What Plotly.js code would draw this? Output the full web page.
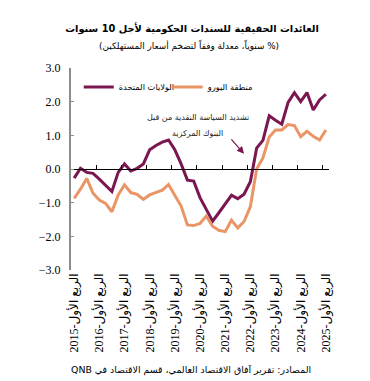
<!DOCTYPE html>
<html>
<head>
<meta charset="utf-8">
<script src="https://cdn.plot.ly/plotly-3.0.1.min.js"></script>
<style>html,body{margin:0;padding:0;background:#fff;}#chart{width:370px;height:381px;}</style>
</head>
<body>
<div id="chart"></div>
<script>
// Quarterly data, Q1 2015 .. Q1 2025
var quarters = [];
var years = ["2015","2016","2017","2018","2019","2020","2021","2022","2023","2024","2025"];
var usYields = [-0.27, 0.02, -0.1, -0.13, -0.3, -0.48, -0.67, -0.1, 0.15, -0.06, 0.02, 0.15, 0.57, 0.7, 0.8, 0.86, 0.57, 0.15, -0.33, -0.36, -0.85, -1.2, -1.55, -1.3, -1.02, -0.78, -0.88, -0.75, -0.38, 0.62, 0.85, 1.58, 1.45, 1.33, 1.98, 2.27, 2.0, 2.27, 1.75, 2.05, 2.22];
var euroYields = [-0.87, -0.6, -0.28, -0.72, -0.92, -1.02, -1.27, -0.77, -0.47, -0.7, -0.75, -0.9, -0.77, -0.7, -0.63, -0.46, -0.8, -1.1, -1.66, -1.68, -1.62, -1.4, -1.7, -1.82, -1.86, -1.52, -1.75, -1.56, -1.12, 0.0, 0.33, 0.95, 1.16, 1.16, 1.32, 1.29, 0.96, 1.12, 0.97, 0.86, 1.16];
var seriesNames = ["الولايات المتحدة", "منطقة اليورو"];
var yTicks = [-3, -2, -1, 0, 1, 2, 3];

var RLE = "\u202B", PDF = "\u202C";
for (var i = 0; i < usYields.length; i++) quarters.push(i);
var labelVals = [], labelText = [], boundaryVals = [];
for (var k = 0; k < years.length; k++) {
  labelVals.push(4 * k);
  labelText.push(RLE + "الربع الأول-" + years[k] + PDF);
}
for (var k = 1; k <= 10; k++) boundaryVals.push(4 * k - 0.5);

var serif = "'Liberation Serif', 'Times New Roman', 'DejaVu Sans', serif";
var sans = "'DejaVu Sans', 'Liberation Sans', sans-serif";
var purple = "#7a1650";
var orange = "#ea9566";

var traces = [
  {x: quarters, y: usYields, type: "scatter", mode: "lines", name: seriesNames[0],
   line: {color: purple, width: 3}, legend: "legend", hoverinfo: "skip"},
  {x: quarters, y: euroYields, type: "scatter", mode: "lines", name: seriesNames[1],
   line: {color: orange, width: 3}, legend: "legend2", hoverinfo: "skip"},
  {x: [0], y: [0], xaxis: "x2", yaxis: "y", type: "scatter", mode: "markers",
   marker: {opacity: 0}, showlegend: false, hoverinfo: "skip"}
];

var layout = {
  width: 370, height: 381,
  margin: {l: 71, r: 41, t: 68, b: 111},
  paper_bgcolor: "#fff", plot_bgcolor: "#fff",
  font: {family: serif, color: "#000", size: 12},
  title: {text: RLE + "العائدات الحقيقية للسندات الحكومية لأجل 10 سنوات" + PDF,
          font: {family: sans, size: 9.8, color: "#000", weight: "bold"},
          x: 0.519, xanchor: "center", xref: "container", y: 0.924, yanchor: "middle", yref: "container"},
  xaxis: {range: [-0.5, 40.5], tickvals: labelVals, ticktext: labelText, tickangle: -90,
          showgrid: false, zeroline: false, showline: false, ticks: "",
          tickfont: {family: serif, size: 12, color: "#000"}, fixedrange: true},
  xaxis2: {range: [-0.5, 40.5], overlaying: "x", anchor: "free", position: 0.5, side: "top",
           tickvals: boundaryVals, ticks: "outside", ticklen: 4, tickcolor: "#000", tickwidth: 1,
           showticklabels: false, showline: true, linecolor: "#000", linewidth: 1,
           showgrid: false, zeroline: false, fixedrange: true},
  yaxis: {range: [-3, 3], tickvals: yTicks, tickformat: ".1f", showgrid: false, zeroline: false,
          showline: true, linecolor: "#8c8c8c", linewidth: 2, ticks: "inside", ticklen: 3,
          tickcolor: "#8c8c8c", tickwidth: 1, ticklabelstandoff: 6,
          tickfont: {family: serif, size: 12, color: "#000"}, fixedrange: true},
  legend: {orientation: "h", x: 0.03, xanchor: "left", y: 0.906, yanchor: "middle",
           font: {family: sans, size: 8.3, color: "#000"}, bgcolor: "rgba(0,0,0,0)", itemwidth: 30},
  legend2: {orientation: "h", x: 0.375, xanchor: "left", y: 0.906, yanchor: "middle",
           font: {family: sans, size: 8.3, color: "#000"}, bgcolor: "rgba(0,0,0,0)", itemwidth: 30},
  annotations: [
    {text: RLE + "(% سنوياً، معدلة وفقاً لتضخم أسعار المستهلكين)" + PDF, xref: "paper", yref: "paper",
     x: 0.457, y: 1.109, xanchor: "center", yanchor: "middle", showarrow: false,
     font: {family: sans, size: 8.9, color: "#000"}},
    {text: RLE + "المصادر: تقرير آفاق الاقتصاد العالمي، قسم الاقتصاد في QNB" + PDF, xref: "paper", yref: "paper",
     x: 0.465, y: -0.495, xanchor: "center", yanchor: "middle", showarrow: false,
     font: {family: sans, size: 9.4, color: "#000"}},
    {text: "تشديد السياسة النقدية من قبل", xref: "x", yref: "y",
     x: 19.7, y: 1.52, xanchor: "center", yanchor: "middle", showarrow: false,
     font: {family: sans, size: 8, color: "#222"}},
    {text: "البنوك المركزية", xref: "x", yref: "y",
     x: 19.6, y: 1.04, xanchor: "center", yanchor: "middle", showarrow: false,
     font: {family: sans, size: 8, color: "#222"}},
    {text: "", xref: "x", yref: "y", x: 27.0, y: 0.45, showarrow: true, ax: -14, ay: -16,
     arrowcolor: purple, arrowwidth: 1.2, arrowhead: 2, arrowsize: 1.2}
  ]
};

Plotly.newPlot("chart", traces, layout, {displayModeBar: false, staticPlot: true});
</script>
</body>
</html>
